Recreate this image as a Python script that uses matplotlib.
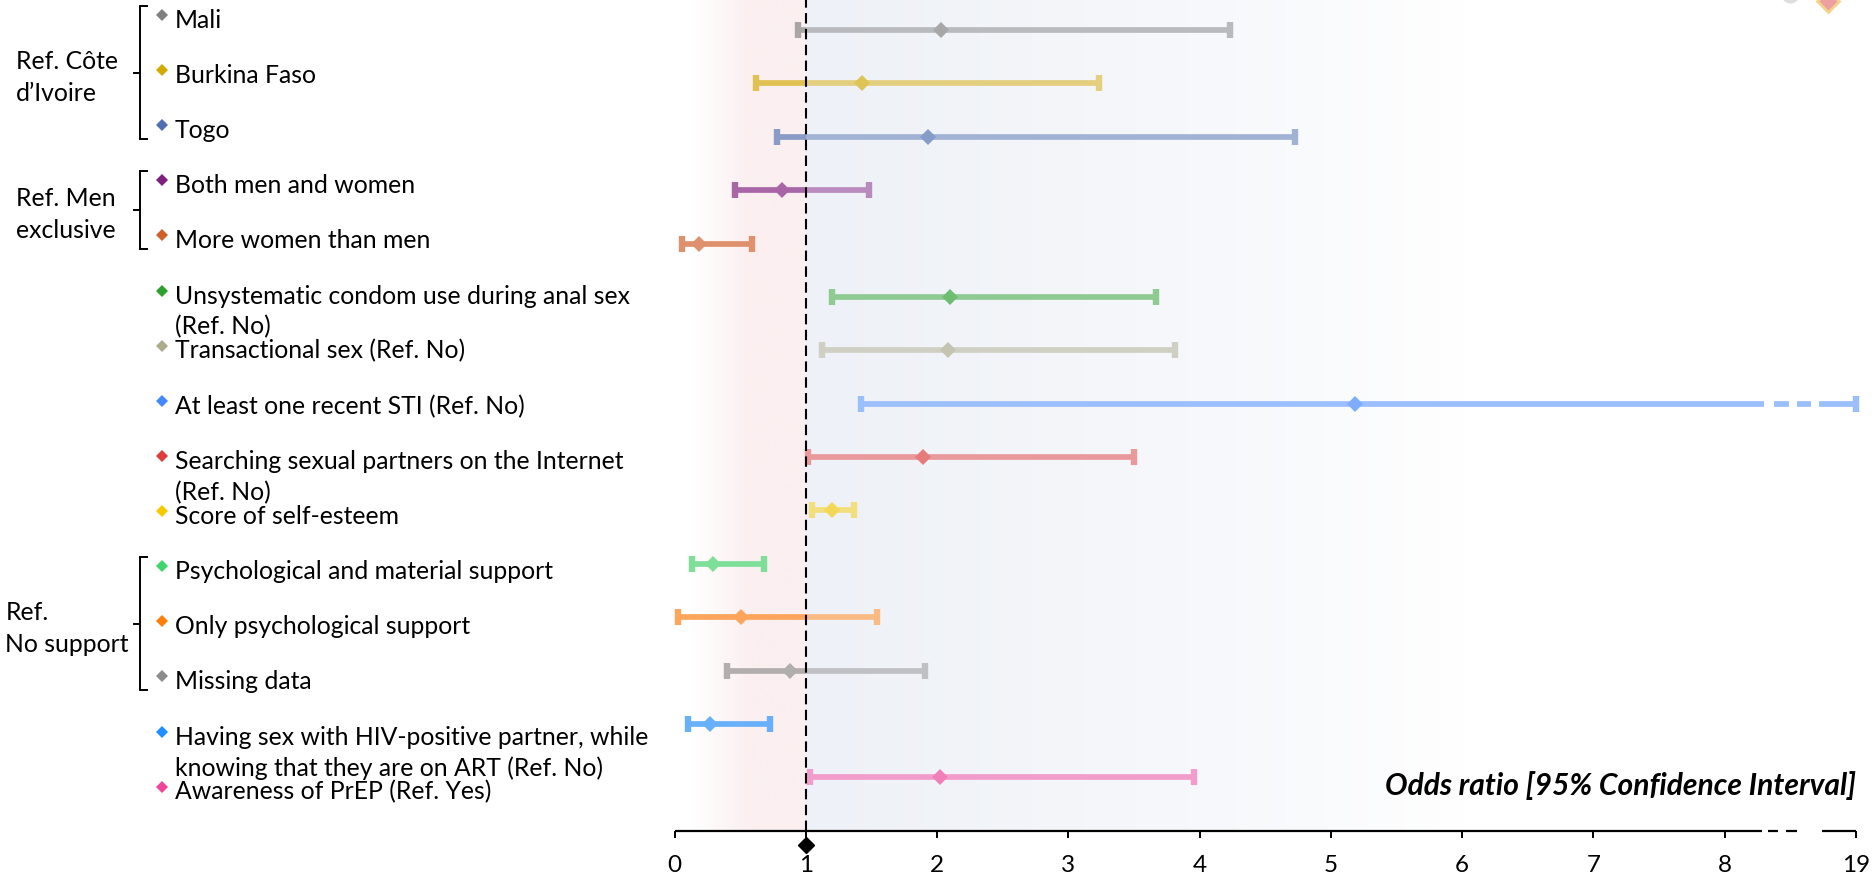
import matplotlib
matplotlib.use("Agg")
import matplotlib.pyplot as plt
from matplotlib.lines import Line2D
import matplotlib.transforms as mtransforms
import numpy as np

plt.rcParams["font.family"] = ["Lato", "DejaVu Sans"]

# ---- data ----------------------------------------------------------------
LABELS = [
    "Mali",
    "Burkina Faso",
    "Togo",
    "Both men and women",
    "More women than men",
    "Unsystematic condom use during anal sex\n(Ref. No)",
    "Transactional sex (Ref. No)",
    "At least one recent STI (Ref. No)",
    "Searching sexual partners on the Internet\n(Ref. No)",
    "Score of self-esteem",
    "Psychological and material support",
    "Only psychological support",
    "Missing data",
    "Having sex with HIV-positive partner, while\nknowing that they are on ART (Ref. No)",
    "Awareness of PrEP (Ref. Yes)",
]
ODDS = [2.03, 1.43, 1.93, 0.82, 0.19, 2.10, 2.08, 5.18, 1.89, 1.20, 0.29, 0.51, 0.88, 0.27, 2.02]
LOWER = [0.94, 0.62, 0.78, 0.46, 0.06, 1.20, 1.12, 1.42, 1.02, 1.05, 0.13, 0.03, 0.40, 0.10, 1.03]
UPPER = [4.23, 3.23, 4.73, 1.48, 0.59, 3.67, 3.81, 19.0, 3.50, 1.37, 0.68, 1.54, 1.91, 0.73, 3.96]
COLORS = ["#808080", "#d4aa00", "#4f6fb0", "#7f1f80", "#d0602a",
          "#2ca02c", "#acac8c", "#4488ff", "#e03c3c", "#f5c800",
          "#3dd66b", "#ff7f0e", "#8c8c8c", "#1e90ff", "#f0449a"]
GROUPS = [("Ref. Côte", "d’Ivoire", 0, 2, 15.6),
          ("Ref. Men", "exclusive", 3, 4, 15.6),
          ("Ref.", "No support", 10, 12, 5.4)]
TICK_VALUES = [0, 1, 2, 3, 4, 5, 6, 7, 8, 19]
XLABEL = "Odds ratio [95% Confidence Interval]"

# broken axis: values above 8.72 squeezed so that 19 sits one unit after 8
BREAK_LO, BREAK_HI, TOP_VAL = 8.30, 8.72, 19.0
# visible pieces inside the break (positions on the axis)
LINE_BREAK = [(8.373, 8.487), (8.55, 8.66)]
AXIS_BREAK = [(8.33, 8.405), (8.47, 8.55)]

FS = 17.8


def pos(v):
    v = np.asarray(v, dtype=float)
    return np.where(v <= BREAK_HI, v,
                    BREAK_HI + (v - BREAK_HI) * (9 - BREAK_HI) / (TOP_VAL - BREAK_HI))


def blend(hexcol, alpha, bg):
    c = np.array(matplotlib.colors.to_rgb(hexcol))
    return tuple(alpha * c + (1 - alpha) * np.array(bg))


BG_LEFT = (251 / 255, 239 / 255, 240 / 255)
BG_RIGHT = (242 / 255, 244 / 255, 249 / 255)

W, H = 1873, 875
fig = plt.figure(figsize=(W / 100, H / 100), dpi=100)
fig.patch.set_facecolor("white")

x0_px, x9_px, axis_px = 674.5, 1856.0, 831.0
ax = fig.add_axes([x0_px / W, (H - axis_px) / H, (x9_px - x0_px) / W, axis_px / H])
row_px, row0_px = 53.38, 30.0
y_top = -row0_px / row_px
y_bot = (axis_px - row0_px) / row_px
ax.set_xlim(0, 9)
ax.set_ylim(y_bot, y_top)
ax.set_facecolor("none")
for s in ax.spines.values():
    s.set_visible(False)
ax.set_yticks([])

# background gradient (pink left of OR=1, blue-grey fading to the right)
xs = np.linspace(0, 9, 900)
img = np.ones((1, xs.size, 3))
for k, xv in enumerate(xs):
    if xv < 1:
        t = np.clip((xv - 0.12) / 0.45, 0, 1)
        img[0, k] = (1 - t) * np.ones(3) + t * np.array(BG_LEFT)
    else:
        t = np.clip(1 - (xv - 1) / 5.0, 0, 1) ** 0.8
        img[0, k] = (1 - t) * np.ones(3) + t * np.array((238 / 255, 241 / 255, 247 / 255))
ax.imshow(img, extent=(0, 9, y_bot, y_top), aspect="auto", zorder=0,
          interpolation="bilinear")

LW, CAP_MS, CAP_MEW, PT_MS = 4.1, 11.3, 4.6, 8.1


def seg(a, b, y, col):
    ax.plot([a, b], [y, y], color=col, lw=LW, solid_capstyle="butt", zorder=2)


for i in range(len(LABELS)):
    lo, hi, pt = float(pos(LOWER[i])), float(pos(UPPER[i])), float(pos(ODDS[i]))
    c = COLORS[i]
    cl = blend(c, 0.66, BG_LEFT)
    cr = blend(c, 0.50, BG_RIGHT)
    if lo < 1:
        seg(lo, min(hi, 1), i, cl)
    if hi > 1:
        a = max(lo, 1)
        if hi > BREAK_LO:
            seg(a, BREAK_LO - 0.002, i, cr)
            for p, q in LINE_BREAK:
                seg(p, q, i, cr)
            seg(BREAK_HI, hi, i, cr)
        else:
            seg(a, hi, i, cr)
    for v in (lo, hi):
        ax.plot([v], [i], marker="|", ms=CAP_MS, mew=CAP_MEW,
                color=cl if v < 1 else cr, zorder=3, clip_on=False)
    ax.plot([pt], [i], marker="D", ms=PT_MS, mew=0,
            color=blend(c, 0.66, BG_LEFT if pt < 1 else BG_RIGHT), zorder=4)

# reference line at OR = 1
ax.axvline(1, color="black", lw=1.5, linestyle=(0, (5, 2.6)), zorder=5)

# x axis with break
bt = mtransforms.blended_transform_factory(ax.transData, ax.transAxes)
for p, q in [(0, 8.285)] + AXIS_BREAK + [(8.74, 9)]:
    ax.plot([p, q], [0, 0], color="black", lw=1.6, transform=bt, clip_on=False,
            solid_capstyle="butt", zorder=6)
ax.set_xticks(pos(TICK_VALUES))
ax.set_xticklabels([str(v) for v in TICK_VALUES])
ax.tick_params(axis="x", direction="out", length=5, width=1.4, pad=12,
               labelsize=17.5, colors="black")
ax.plot([1], [-14 / axis_px], marker="D", ms=8.5, color="black", transform=bt,
        clip_on=False, zorder=7)

fig.text(1856 / W, 1 - 795 / H, XLABEL, ha="right", va="baseline",
         fontsize=21.6, fontweight="bold", fontstyle="italic", color="black")

# ---- labels panel --------------------------------------------------------
lab = fig.add_axes([0, (H - axis_px) / H, x0_px / W, axis_px / H])
lab_row, lab0 = 55.12, 15.0
lab.set_xlim(0, x0_px)
lab.set_ylim((axis_px - lab0) / lab_row, -lab0 / lab_row)
lab.axis("off")
u = 1 / lab_row  # one pixel in label-row units

for i, text in enumerate(LABELS):
    lab.plot([161.7], [i], marker="D", ms=6.6, mew=0, color=COLORS[i], clip_on=False)
    for k, line in enumerate(text.split("\n")):
        lab.text(175, i + 13 * u + k * 31 * u, line, ha="left", va="baseline",
                 fontsize=FS, color="black")

for top, bottom, first, last, tx in GROUPS:
    y1, y2 = first - 9 * u, last + 14 * u
    ym = (y1 + y2) / 2
    bx = 139.7
    lab.plot([bx + 7, bx, bx, bx + 7], [y1, y1, y2, y2], color="black", lw=1.4,
             solid_joinstyle="miter")
    lab.plot([bx - 6, bx], [ym, ym], color="black", lw=1.4)
    lab.text(tx, ym - 4 * u, top, ha="left", va="baseline", fontsize=FS)
    lab.text(tx, ym + 28 * u, bottom, ha="left", va="baseline", fontsize=FS)

# clipped marker peeking in at the top right corner
fig.add_artist(Line2D([1790 / W], [1 + 6 / H], marker="o", ms=13, mew=0,
                      color="#dedede", transform=fig.transFigure))
fig.add_artist(Line2D([1828 / W], [1 - 0.5 / H], marker="D", ms=11.7, mew=2,
                      color="#eea0a0", mec="#f3d58a", transform=fig.transFigure))

fig.savefig("out.png", dpi=100, facecolor="white")
